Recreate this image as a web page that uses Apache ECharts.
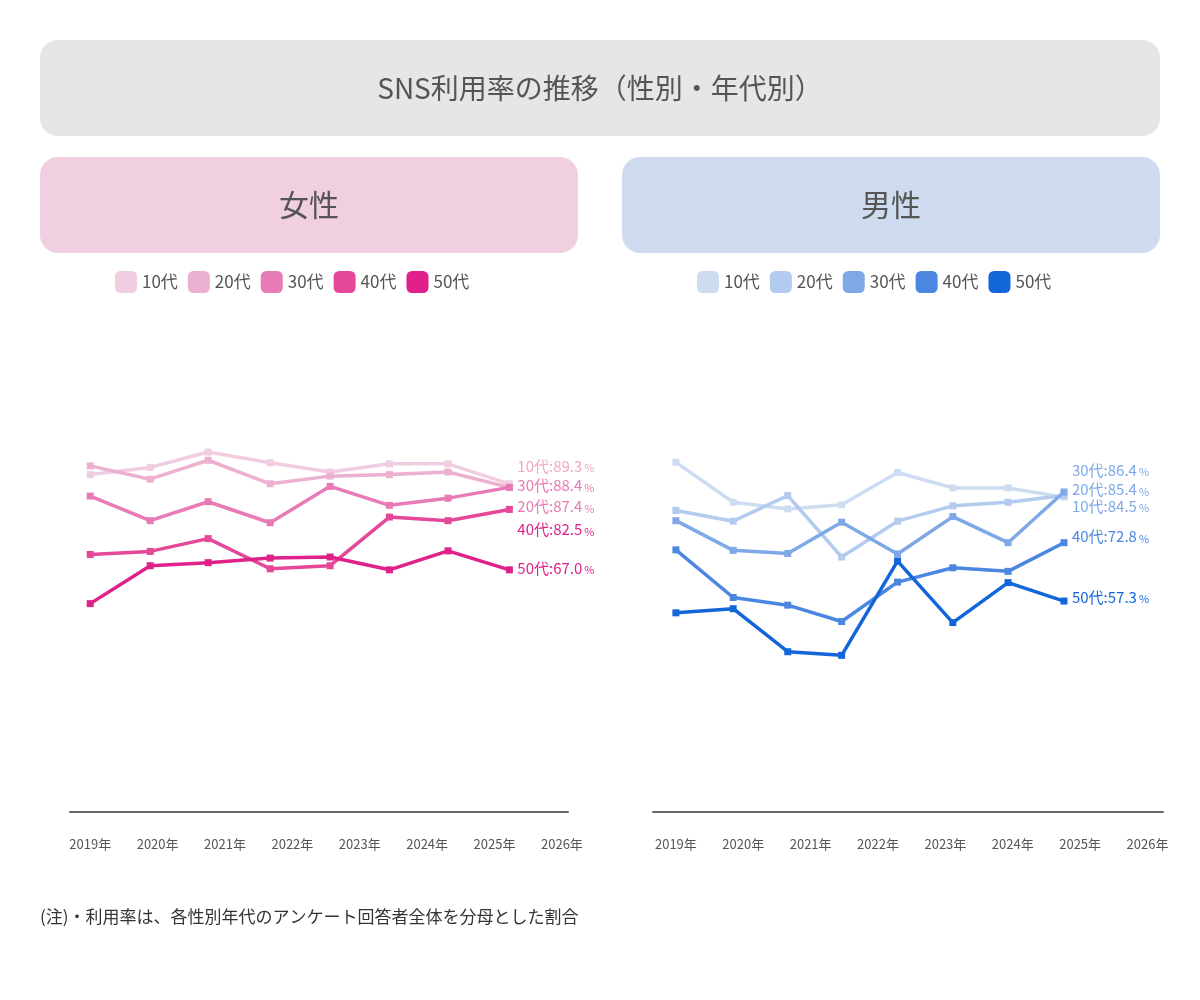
<!DOCTYPE html>
<html><head><meta charset="utf-8">
<script src="https://cdn.jsdelivr.net/npm/echarts@6/dist/echarts.min.js"></script>
<style>html,body{margin:0;background:#fff}#main{width:1200px;height:1000px}</style>
</head><body><div id="main"></div>
<script>
var ages = ['10代', '20代', '30代', '40代', '50代'];
var years = [2019, 2020, 2021, 2022, 2023, 2024, 2025, 2026];
// 調査時点（年の位置）
var femaleX = [2019.0, 2019.89, 2020.75, 2021.67, 2022.56, 2023.44, 2024.31, 2025.22];
var maleX = [2019.0, 2019.85, 2020.66, 2021.46, 2022.29, 2023.11, 2023.93, 2024.76];
var female10 = [65.9, 67.3, 70.3, 68.2, 66.4, 68.0, 68.0, 64.1];
var female20 = [67.6, 65.0, 68.7, 64.1, 65.6, 65.9, 66.4, 63.4];
var female30 = [61.7, 56.9, 60.6, 56.5, 63.6, 59.9, 61.3, 63.4];
var female40 = [50.3, 50.9, 53.4, 47.5, 48.1, 57.6, 56.9, 59.1];
var female50 = [40.7, 48.1, 48.7, 49.6, 49.8, 47.3, 51.0, 47.3];
var male10 = [68.3, 60.5, 59.2, 60.0, 66.3, 63.3, 63.3, 61.5];
var male20 = [58.9, 56.8, 61.8, 49.8, 56.8, 59.8, 60.5, 61.8];
var male30 = [56.9, 51.1, 50.5, 56.6, 50.4, 57.7, 52.6, 62.5];
var male40 = [51.2, 41.9, 40.4, 37.2, 44.9, 47.7, 47.0, 52.6];
var male50 = [38.9, 39.7, 31.3, 30.6, 49.0, 37.0, 44.8, 41.2];
var femaleLatest = [89.3, 87.4, 88.4, 82.5, 67.0];
var maleLatest = [84.5, 85.4, 86.4, 72.8, 57.3];

var pink = ['#f0cde0', '#ecb0d0', '#e87ab6', '#e54898', '#e0218a'];
var blue = ['#cddcf0', '#b3cbee', '#7fa8e6', '#4b87e0', '#1366d9'];
var pinkLabel = ['#f0a8c8', '#e87ab6', '#e87ab6', '#e0218a', '#e0218a'];
var blueLabel = ['#7fa8e6', '#7fa8e6', '#7fa8e6', '#4b87e0', '#1366d9'];
var femaleOff = [-18, 19, -2, 20, -2];
var maleOff = [9, -6, -22, -6, -4];
var FONT = '"Noto Sans CJK JP", "Noto Sans", sans-serif';

var chart = echarts.init(document.getElementById('main'));

function pairs(xs, ys) { return xs.map(function (x, i) { return [x, ys[i]]; }); }

function makeSeries(xs, data, latest, colors, labelColors, offs, idx) {
  return data.map(function (d, i) {
    return {
      name: ages[i], type: 'line', xAxisIndex: idx, yAxisIndex: idx,
      data: pairs(xs, d), symbol: 'rect', symbolSize: 7, z: 2 + i,
      lineStyle: { width: 3.5, color: colors[i] }, itemStyle: { color: colors[i] },
      endLabel: {
        show: true, distance: 8, offset: [0, offs[i]],
        formatter: function () { return '{a|' + ages[i] + ':' + latest[i].toFixed(1) + '}{b|%}'; },
        rich: {
          a: { fontSize: 15, color: labelColors[i], fontFamily: FONT },
          b: { fontSize: 11, color: labelColors[i], fontFamily: FONT, padding: [4, 0, 0, 2] }
        }
      }
    };
  });
}

function legendData(colors) {
  return ages.map(function (a, i) { return { name: a, itemStyle: { color: colors[i] } }; });
}

function xAxis(idx, min, max) {
  return {
    type: 'value', gridIndex: idx, min: min, max: max, splitLine: { show: false },
    axisLine: { lineStyle: { color: '#666', width: 2 } }, axisTick: { show: false },
    axisLabel: { customValues: years, formatter: function (v) { return v + '年'; },
      color: '#555', fontSize: 13, margin: 26, fontFamily: FONT }
  };
}
function yAxis(idx) {
  return { type: 'value', gridIndex: idx, min: 0, max: 100, show: false };
}

chart.setOption({
  animation: false,
  textStyle: { fontFamily: FONT },
  graphic: [
    { type: 'rect', shape: { x: 40, y: 40, width: 1120, height: 96, r: 18 }, style: { fill: '#e6e6e6' } },
    { type: 'text', x: 600, y: 88, style: { text: 'SNS利用率の推移（性別・年代別）', fill: '#555', font: '28px ' + FONT, align: 'center', verticalAlign: 'middle' } },
    { type: 'rect', shape: { x: 40, y: 157, width: 538, height: 96, r: 18 }, style: { fill: '#f0cfe0' } },
    { type: 'text', x: 309, y: 205, style: { text: '女性', fill: '#555', font: '30px ' + FONT, align: 'center', verticalAlign: 'middle' } },
    { type: 'rect', shape: { x: 622, y: 157, width: 538, height: 96, r: 18 }, style: { fill: '#cfdcef' } },
    { type: 'text', x: 891, y: 205, style: { text: '男性', fill: '#555', font: '30px ' + FONT, align: 'center', verticalAlign: 'middle' } },
    { type: 'text', x: 40, y: 917, style: { text: '(注)・利用率は、各性別年代のアンケート回答者全体を分母とした割合', fill: '#333', font: '17px ' + FONT, verticalAlign: 'middle' } }
  ],
  legend: [
    { data: legendData(pink), left: 110, top: 266, icon: 'roundRect', itemWidth: 22, itemHeight: 22, itemGap: 10,
      textStyle: { fontSize: 17, color: '#555', fontFamily: FONT }, selectedMode: false },
    { data: legendData(blue), left: 692, top: 266, icon: 'roundRect', itemWidth: 22, itemHeight: 22, itemGap: 10,
      textStyle: { fontSize: 17, color: '#555', fontFamily: FONT }, selectedMode: false }
  ],
  grid: [
    { left: 70, width: 498, top: 300, height: 512 },
    { left: 653, width: 510, top: 300, height: 512 }
  ],
  xAxis: [xAxis(0, 2018.7, 2026.09), xAxis(1, 2018.66, 2026.23)],
  yAxis: [yAxis(0), yAxis(1)],
  series: makeSeries(femaleX, [female10, female20, female30, female40, female50], femaleLatest, pink, pinkLabel, femaleOff, 0)
    .concat(makeSeries(maleX, [male10, male20, male30, male40, male50], maleLatest, blue, blueLabel, maleOff, 1))
});
</script>
</body></html>
